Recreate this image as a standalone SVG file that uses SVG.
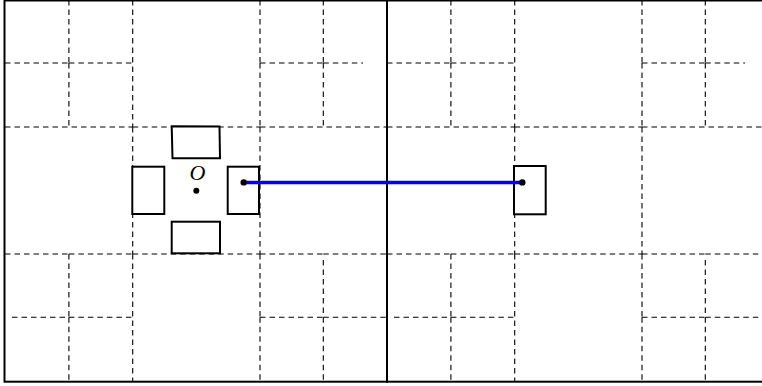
<svg xmlns="http://www.w3.org/2000/svg" xmlns:xlink="http://www.w3.org/1999/xlink" width="762" height="386" viewBox="0 0 762 386">
<style>
.d{fill:none;stroke:#000;stroke-width:1.1;stroke-dasharray:5.5 4}
.b{fill:none;stroke:#000;stroke-width:2}
.r{fill:#fff;stroke:#000;stroke-width:2;stroke-linejoin:miter}
.dot{fill:#000}
.lbl{font-family:"Liberation Serif","DejaVu Serif",serif;font-style:italic;font-size:22px;fill:#000}
</style>
<defs>
<g id="grid">
<path class="d" d="M68.9 0V63"/>
<path class="d" d="M5 63H68.9"/>
<path class="d" d="M68.9 63H132.7"/>
<path class="d" d="M68.9 63V127"/>
<path class="d" d="M132.7 0V127"/>
<path class="d" d="M260 0V63"/>
<path class="d" d="M323.3 0V63"/>
<path class="d" d="M260 63H323.3"/>
<path class="d" d="M260 63V127"/>
<path class="d" d="M323.3 63H363"/>
<path class="d" d="M323.3 63V127"/>
<path class="d" d="M5 127H132.7"/>
<path class="d" d="M132.7 127H260"/>
<path class="d" d="M132.7 127V254"/>
<path class="d" d="M260 127H387"/>
<path class="d" d="M260 127V254"/>
<path class="d" d="M5 254H68.9"/>
<path class="d" d="M68.9 254H132.7"/>
<path class="d" d="M68.9 254V317.3"/>
<path class="d" d="M12 317.3H68.9"/>
<path class="d" d="M68.9 317.3H132.7"/>
<path class="d" d="M68.9 317.3V381"/>
<path class="d" d="M132.7 254H260"/>
<path class="d" d="M132.7 254V381"/>
<path class="d" d="M260 254H323.3"/>
<path class="d" d="M260 254V317.3"/>
<path class="d" d="M323.3 254H387"/>
<path class="d" d="M323.3 260V317.3"/>
<path class="d" d="M260 317.3H323.3"/>
<path class="d" d="M260 317.3V381"/>
<path class="d" d="M323.3 317.3H387"/>
<path class="d" d="M323.3 317.3V381"/>
</g>
</defs>
<g id="grid-left"><use xlink:href="#grid"/></g>
<g id="grid-right"><use xlink:href="#grid" transform="translate(382,0)"/></g>
<g id="borders">
<rect class="b" x="4.5" y="0.5" width="382.5" height="381.2"/>
<rect class="b" x="387" y="0.5" width="382" height="381.2"/>
</g>
<g id="node-top"><path class="r" d="M171.7 126.2L219.5 126.5L220 158.3L172.5 158.3Z"/></g>
<g id="node-left"><rect class="r" x="132.3" y="166.7" width="32" height="47.3"/></g>
<g id="node-bottom"><rect class="r" x="171.7" y="221.7" width="48.3" height="31.6"/></g>
<g id="node-right"><rect class="r" x="227.7" y="166.7" width="31.3" height="47.3"/></g>
<g id="node-far"><rect class="r" x="514" y="166" width="31.7" height="48.3"/></g>
<g id="node-origin">
<text class="lbl" x="197.5" y="180" text-anchor="middle">O</text>
<circle class="dot" cx="196.3" cy="190.7" r="3"/>
</g>
<g id="connectors">
<line x1="243.7" y1="182.5" x2="522.3" y2="182.5" stroke="#0000ff" stroke-width="3.4"/>
<circle class="dot" cx="243.7" cy="182.4" r="3.2"/>
<circle class="dot" cx="522.3" cy="182.4" r="3.2"/>
</g>
</svg>
